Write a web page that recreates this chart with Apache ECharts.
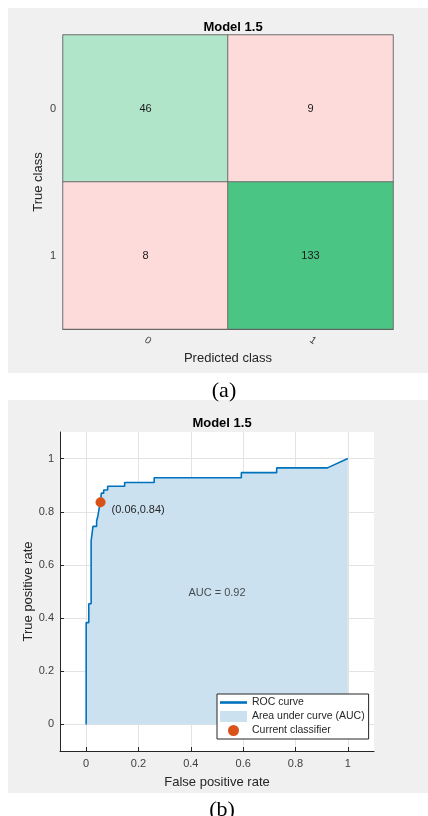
<!DOCTYPE html>
<html>
<head>
<meta charset="utf-8">
<script src="https://cdn.jsdelivr.net/npm/echarts@6/dist/echarts.min.js"></script>
<style>html,body{margin:0;padding:0;background:#fff;}#c{width:428px;height:816px;}</style>
</head>
<body>
<div id="c"></div>
<script>
// ---- Data ----
const chartTitle = 'Model 1.5';
const classes = ['0', '1'];
const confusionCounts = [[46, 9], [8, 133]]; // rows: true class, cols: predicted class

const rocFpr = [0, 0, 0.010, 0.010, 0.019, 0.019, 0.026, 0.026, 0.040, 0.040, 0.045, 0.045, 0.051, 0.051, 0.055, 0.055, 0.058, 0.058, 0.067, 0.067, 0.082, 0.082, 0.147, 0.147, 0.260, 0.260, 0.593, 0.593, 0.728, 0.728, 0.922, 1.0];
const rocTpr = [0, 0.383, 0.383, 0.454, 0.454, 0.690, 0.690, 0.745, 0.745, 0.765, 0.765, 0.785, 0.785, 0.820, 0.820, 0.840, 0.840, 0.870, 0.870, 0.882, 0.882, 0.896, 0.896, 0.910, 0.910, 0.928, 0.928, 0.947, 0.947, 0.965, 0.965, 1.0];
const currentClassifier = [0.055, 0.836];
const currentLabel = '(0.06,0.84)';
const aucText = 'AUC = 0.92';
const aucTextPos = [0.50, 0.494];
const rateTicks = [0, 0.2, 0.4, 0.6, 0.8, 1];

// ---- Build ----
const FONT = '"Liberation Sans", Arial, Helvetica, sans-serif';
const heatData = [];
for (let i = 0; i < classes.length; i++) {
  for (let j = 0; j < classes.length; j++) {
    const v = confusionCounts[i][j];
    let color;
    if (i !== j) color = '#fedbdb';
    else color = v > 100 ? '#4bc583' : '#b0e5c9';
    heatData.push({ value: [j, i, v], itemStyle: { color: color } });
  }
}
const rocData = rocFpr.map((x, k) => [x, rocTpr[k]]);

const chart = echarts.init(document.getElementById('c'), null, { renderer: 'canvas' });
const axisNameStyle = { fontFamily: FONT, fontSize: 13, color: '#262626' };
const tickLabelStyle = { fontFamily: FONT, fontSize: 11, color: '#404040' };

chart.setOption({
  backgroundColor: '#ffffff',
  animation: false,
  textStyle: { fontFamily: FONT },
  graphic: [
    { type: 'rect', z: -100, silent: true, shape: { x: 8, y: 8, width: 420, height: 365 }, style: { fill: '#f0f0f0' } },
    { type: 'rect', z: -100, silent: true, shape: { x: 8, y: 400, width: 420, height: 393 }, style: { fill: '#f0f0f0' } }
  ],
  title: [
    { text: chartTitle, left: 228, top: 16, textAlign: 'center', textStyle: { fontFamily: FONT, fontSize: 13, fontWeight: 'bold', color: '#000' } },
    { text: chartTitle, left: 217, top: 412, textAlign: 'center', textStyle: { fontFamily: FONT, fontSize: 13, fontWeight: 'bold', color: '#000' } },
    { text: '(a)', left: 219, top: 375, textAlign: 'center', textStyle: { fontFamily: '"Liberation Serif", "Times New Roman", serif', fontSize: 22, fontWeight: 'normal', color: '#000' } },
    { text: '(b)', left: 217, top: 794, textAlign: 'center', textStyle: { fontFamily: '"Liberation Serif", "Times New Roman", serif', fontSize: 22, fontWeight: 'normal', color: '#000' } }
  ],
  grid: [
    { left: 63, top: 35, width: 330, height: 294, containLabel: false },
    { left: 60, top: 432, width: 314, height: 319, show: true, backgroundColor: '#ffffff', borderWidth: 0, containLabel: false }
  ],
  xAxis: [
    {
      gridIndex: 0, type: 'category', data: classes, position: 'bottom',
      name: 'Predicted class', nameLocation: 'middle', nameGap: 23, nameMoveOverlap: false, nameTextStyle: axisNameStyle,
      axisLine: { show: true, lineStyle: { color: '#262626', width: 1 } },
      axisTick: { show: false },
      axisLabel: Object.assign({ rotate: -35, margin: 10 }, tickLabelStyle, { fontSize: 10 }),
      splitLine: { show: false }
    },
    {
      gridIndex: 1, type: 'value', min: -0.1, max: 1.1,
      name: 'False positive rate', nameLocation: 'middle', nameGap: 25, nameMoveOverlap: false, nameTextStyle: axisNameStyle,
      axisLine: { show: true, onZero: false, lineStyle: { color: '#262626', width: 1 } },
      axisTick: { show: true, inside: true, length: 4, customValues: rateTicks, lineStyle: { color: '#262626' } },
      axisLabel: Object.assign({ margin: 7, customValues: rateTicks }, tickLabelStyle),
      splitLine: { show: true, lineStyle: { color: '#e3e3e3', width: 1 } }
    }
  ],
  yAxis: [
    {
      gridIndex: 0, type: 'category', data: classes, inverse: true,
      name: 'True class', nameLocation: 'middle', nameGap: 18, nameMoveOverlap: false, nameTextStyle: axisNameStyle,
      axisLine: { show: true, lineStyle: { color: '#262626', width: 1 } },
      axisTick: { show: false },
      axisLabel: Object.assign({ margin: 7 }, tickLabelStyle),
      splitLine: { show: false }
    },
    {
      gridIndex: 1, type: 'value', min: -0.1, max: 1.1,
      name: 'True positive rate', nameLocation: 'middle', nameGap: 25, nameMoveOverlap: false, nameTextStyle: axisNameStyle,
      axisLine: { show: true, onZero: false, lineStyle: { color: '#262626', width: 1 } },
      axisTick: { show: true, inside: true, length: 4, customValues: rateTicks, lineStyle: { color: '#262626' } },
      axisLabel: Object.assign({ margin: 6, customValues: rateTicks }, tickLabelStyle),
      splitLine: { show: true, lineStyle: { color: '#e3e3e3', width: 1 } }
    }
  ],
  legend: {
    left: 217, top: 694, orient: 'vertical',
    itemWidth: 27, itemHeight: 11, itemGap: 3,
    padding: [3, 4, 3, 3],
    backgroundColor: '#ffffff', borderColor: '#262626', borderWidth: 1, borderRadius: 0,
    textStyle: { fontFamily: FONT, fontSize: 10.5, color: '#262626' },
    selectedMode: false,
    data: [
      { name: 'ROC curve', icon: 'path://M0,0h27v2.6h-27z', itemStyle: { color: '#0072bd', opacity: 1 } },
      { name: 'Area under curve (AUC)', icon: 'rect', itemStyle: { color: '#cce1f0', opacity: 1 } },
      { name: 'Current classifier', icon: 'path://M0,0m-4.5,0a4.5,4.5 0 1,0 9,0a4.5,4.5 0 1,0 -9,0', itemStyle: { color: '#d95319', opacity: 1 } }
    ]
  },
  series: [
    {
      type: 'heatmap', xAxisIndex: 0, yAxisIndex: 0, data: heatData,
      itemStyle: { borderColor: '#6e6e6e', borderWidth: 1 },
      label: { show: true, fontFamily: FONT, fontSize: 11, color: '#1a1a1a', formatter: p => String(p.value[2]) },
      emphasis: { disabled: true }
    },
    {
      name: 'Area under curve (AUC)', type: 'line', xAxisIndex: 1, yAxisIndex: 1, data: rocData,
      showSymbol: false, symbol: 'none', lineStyle: { width: 0 },
      itemStyle: { color: '#cce1f0' },
      areaStyle: { color: '#cce1f0', opacity: 1, origin: 'auto' }, z: 2
    },
    {
      name: 'ROC curve', type: 'line', xAxisIndex: 1, yAxisIndex: 1, data: rocData,
      showSymbol: false, symbol: 'none', lineStyle: { width: 1.6, color: '#0072bd' },
      itemStyle: { color: '#0072bd' }, z: 3
    },
    {
      name: 'Current classifier', type: 'scatter', xAxisIndex: 1, yAxisIndex: 1, data: [currentClassifier],
      symbolSize: 10, itemStyle: { color: '#d95319', opacity: 1 }, z: 5,
      label: { show: true, position: 'right', distance: 6, offset: [0, 8], formatter: currentLabel, fontFamily: FONT, fontSize: 11, color: '#262626' }
    },
    {
      type: 'scatter', xAxisIndex: 1, yAxisIndex: 1, data: [aucTextPos],
      symbolSize: 1, itemStyle: { color: 'rgba(0,0,0,0)' }, z: 4,
      label: { show: true, position: 'inside', formatter: aucText, fontFamily: FONT, fontSize: 11, color: '#262626' }
    }
  ]
});
</script>
</body>
</html>
